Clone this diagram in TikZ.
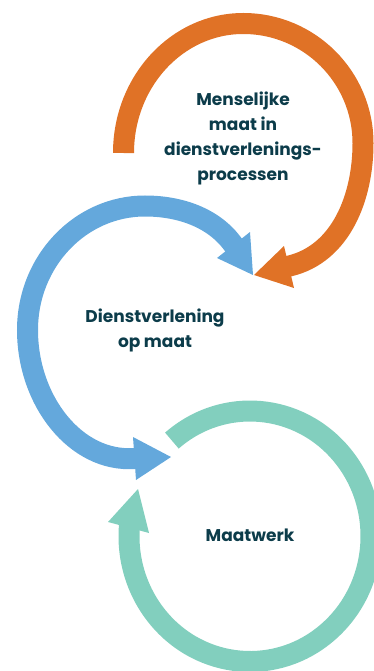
\documentclass[tikz,border=0pt]{standalone}
\usepackage{fontspec}
\setmainfont{Poppins}
\definecolor{orng}{RGB}{224,114,38}
\definecolor{blu}{RGB}{100,168,220}
\definecolor{grn}{RGB}{130,207,190}
\definecolor{txt}{RGB}{12,60,74}
\begin{document}
\begin{tikzpicture}[x=1pt,y=-1pt,
  band/.style={line width=21pt, line cap=butt},
  lbl/.style={font=\bfseries\fontsize{17}{25}\selectfont, text=txt, align=center, inner sep=0pt}]
\useasboundingbox (0,0) rectangle (374,671);
% orange cycle
\draw[band, draw=orng] (123.5,153) .. controls (123.5,81.5) and (177.1,23.5) .. (243.25,23.5)
  .. controls (309.4,23.5) and (363,77.1) .. (363,143.25)
  .. controls (363,196.5) and (341.5,253.6) .. (289.5,266) -- (285.6,266.9);
\fill[orng] (284,246) -- (254,275) -- (294,288) -- cycle;
% blue cycle
\draw[band, draw=blu] (235.8,248.3) -- (233.5,245) .. controls (213.7,217.2) and (179.1,206) .. (145,206)
  .. controls (80.1,206) and (27.5,261.5) .. (27.5,330)
  .. controls (27.5,400.7) and (75.8,462.6) .. (134.5,458.5) -- (138.5,458.2);
\fill[blu] (250,232) -- (253,275) -- (217,258) -- cycle;
\fill[blu] (133,437) -- (171,457) -- (136,480) -- cycle;
% green cycle
\draw[band, draw=grn] (171.9,440.6) arc[start angle=229.8, end angle=547, x radius=121, y radius=125.25];
\fill[grn] (108,522) -- (138,489) -- (149,533) -- cycle;
% labels
\node[lbl] (menselijk) at (243,138) {Menselijke\\maat in\\dienstverlenings-\\processen};
\node[lbl] (dienst) at (155,330.5) {Dienstverlening\\op maat};
\node[lbl] (maatwerk) at (250,535) {Maatwerk};
\end{tikzpicture}
\end{document}
